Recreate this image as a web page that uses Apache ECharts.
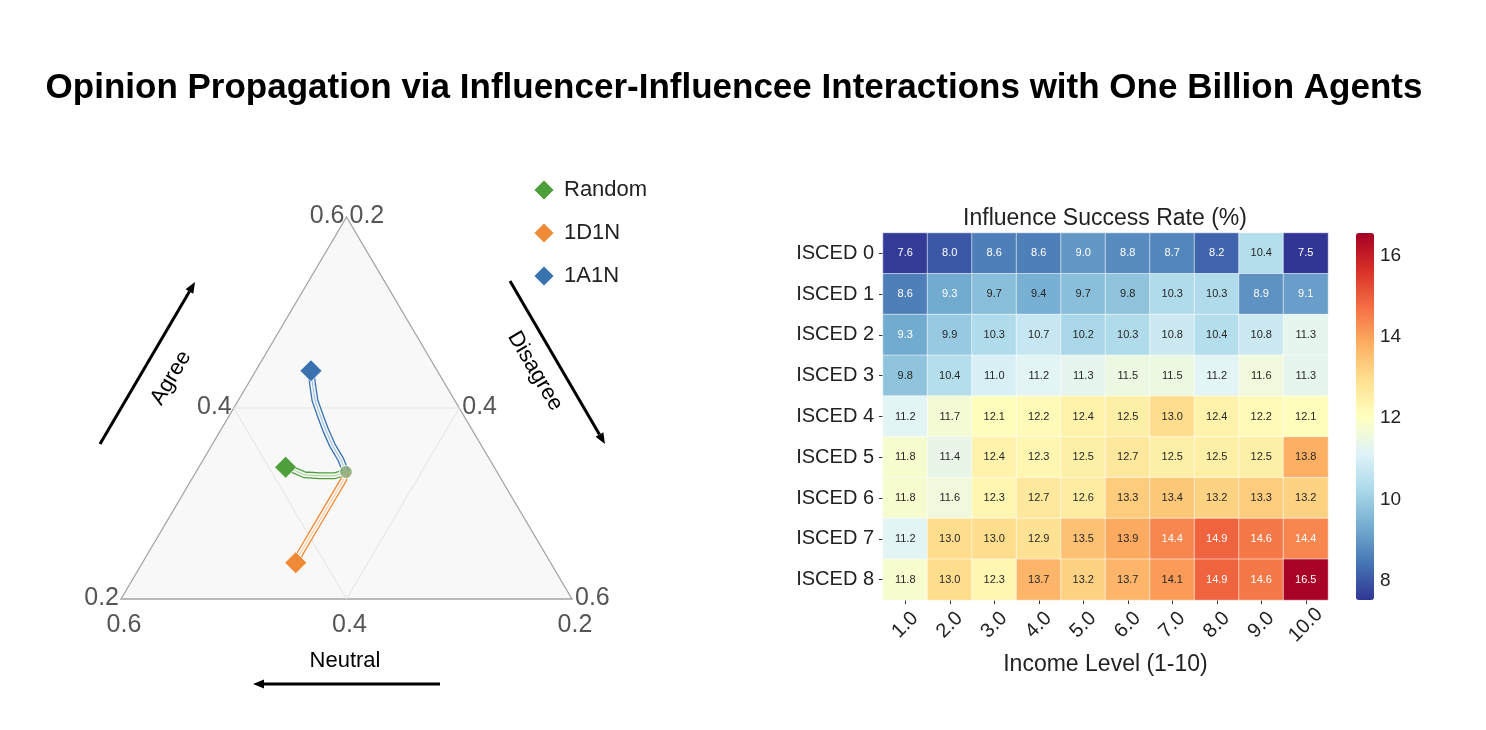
<!DOCTYPE html>
<html>
<head>
<meta charset="utf-8">
<title>Opinion Propagation</title>
<script src="https://cdn.jsdelivr.net/npm/echarts@6/dist/echarts.min.js"></script>
<style>
  html, body { margin: 0; padding: 0; background: #fff; }
  #chart { width: 1486px; height: 730px; }
</style>
</head>
<body>
<div id="chart"></div>
<script>
// ---- ternary panel: points are [agree, disagree, neutral] ----
const TERN_MIN = 0.2;
const agreeTicks = [0.2, 0.4, 0.6];
const disagreeTicks = [0.2, 0.4, 0.6];
const neutralTicks = [0.2, 0.4, 0.6];

// trajectories, from the shared start state to the final state (diamond)
const randomPath = [[0.333, 0.333, 0.334], [0.329, 0.325, 0.346], [0.329, 0.312, 0.359], [0.330, 0.298, 0.372], [0.334, 0.288, 0.378], [0.338, 0.277, 0.385]];
const d1nPath = [[0.333, 0.333, 0.334], [0.325, 0.335, 0.340], [0.302, 0.335, 0.363], [0.274, 0.335, 0.391], [0.248, 0.335, 0.417], [0.238, 0.336, 0.426]];
const a1nPath = [[0.333, 0.333, 0.334], [0.346, 0.322, 0.332], [0.361, 0.307, 0.332], [0.377, 0.293, 0.330], [0.393, 0.280, 0.327], [0.408, 0.268, 0.324], [0.424, 0.258, 0.318], [0.439, 0.249, 0.312]];

// ---- heatmap panel ----
const incomeLevels = ['1.0', '2.0', '3.0', '4.0', '5.0', '6.0', '7.0', '8.0', '9.0', '10.0'];
const iscedLevels = ['ISCED 0', 'ISCED 1', 'ISCED 2', 'ISCED 3', 'ISCED 4', 'ISCED 5', 'ISCED 6', 'ISCED 7', 'ISCED 8'];
const successRate = [
  [7.6, 8.0, 8.6, 8.6, 9.0, 8.8, 8.7, 8.2, 10.4, 7.5],
  [8.6, 9.3, 9.7, 9.4, 9.7, 9.8, 10.3, 10.3, 8.9, 9.1],
  [9.3, 9.9, 10.3, 10.7, 10.2, 10.3, 10.8, 10.4, 10.8, 11.3],
  [9.8, 10.4, 11.0, 11.2, 11.3, 11.5, 11.5, 11.2, 11.6, 11.3],
  [11.2, 11.7, 12.1, 12.2, 12.4, 12.5, 13.0, 12.4, 12.2, 12.1],
  [11.8, 11.4, 12.4, 12.3, 12.5, 12.7, 12.5, 12.5, 12.5, 13.8],
  [11.8, 11.6, 12.3, 12.7, 12.6, 13.3, 13.4, 13.2, 13.3, 13.2],
  [11.2, 13.0, 13.0, 12.9, 13.5, 13.9, 14.4, 14.9, 14.6, 14.4],
  [11.8, 13.0, 12.3, 13.7, 13.2, 13.7, 14.1, 14.9, 14.6, 16.5]
];
const colorbarTicks = [8, 10, 12, 14, 16];

const FONT = "'Liberation Sans', Arial, Helvetica, sans-serif";
const RDYLBU_R = ['#313695', '#4575b4', '#74add1', '#abd9e9', '#e0f3f8', '#ffffbf',
  '#fee090', '#fdae61', '#f46d43', '#d73027', '#a50026'];
const COLORS = { random: '#4f9e3c', d1n: '#f08a36', a1n: '#3a72b0' };

// ternary -> plane: x = disagree - neutral, y = agree
const toXY = p => [p[1] - p[2], p[0]];
const other = t => 1 - t - TERN_MIN;

const triangle = [[0.6, 0.2, 0.2], [0.2, 0.2, 0.6], [0.2, 0.6, 0.2]];
const gridSegs = [];
agreeTicks.slice(1, -1).forEach(t => gridSegs.push([[t, TERN_MIN, other(t)], [t, other(t), TERN_MIN]]));
disagreeTicks.slice(1, -1).forEach(t => gridSegs.push([[other(t), t, TERN_MIN], [TERN_MIN, t, other(t)]]));
neutralTicks.slice(1, -1).forEach(t => gridSegs.push([[other(t), TERN_MIN, t], [TERN_MIN, other(t), t]]));

function tickSeries(points, ticks, position, distance, offset) {
  return {
    type: 'scatter', xAxisIndex: 0, yAxisIndex: 0, silent: true,
    symbolSize: 0,
    data: points.map(toXY),
    label: {
      show: true, position, distance, offset,
      formatter: p => ticks[p.dataIndex].toFixed(1),
      fontSize: 25, color: '#2b2b2b', fontFamily: FONT
    }
  };
}

function pathSeries(path, color) {
  const xy = path.map(toXY);
  const base = { type: 'line', xAxisIndex: 0, yAxisIndex: 0, data: xy, showSymbol: false, smooth: false, silent: true };
  return [
    Object.assign({}, base, { lineStyle: { color, width: 7, join: 'round' }, z: 3 }),
    Object.assign({}, base, { lineStyle: { color: '#ffffff', width: 4.4, opacity: 0.92, join: 'round' }, z: 4 }),
    Object.assign({}, base, { lineStyle: { color, width: 0.8, opacity: 0.55 }, z: 5 })
  ];
}

function endSeries(name, path, color) {
  return {
    name, type: 'scatter', xAxisIndex: 0, yAxisIndex: 0,
    data: [toXY(path[path.length - 1])],
    symbol: 'diamond', symbolSize: 22, z: 7,
    itemStyle: { color, borderColor: '#fff', borderWidth: 0.8, opacity: 1 }
  };
}

function arrow(x1, y1, x2, y2) {
  const a = Math.atan2(y2 - y1, x2 - x1);
  const head = 11, half = 4.5;
  const bx = x2 - head * Math.cos(a), by = y2 - head * Math.sin(a);
  const px = -Math.sin(a) * half, py = Math.cos(a) * half;
  return [
    { type: 'line', shape: { x1, y1, x2: bx, y2: by }, style: { stroke: '#000', lineWidth: 3 } },
    { type: 'polygon', shape: { points: [[x2, y2], [bx + px, by + py], [bx - px, by - py]] }, style: { fill: '#000' } }
  ];
}

const heatData = [];
successRate.forEach((row, r) => row.forEach((v, c) => {
  heatData.push({ value: [c, r, v], label: { color: (v <= 9.3 || v >= 14.3) ? '#ffffff' : '#262626' } });
}));

const series = [
  {
    type: 'custom', xAxisIndex: 0, yAxisIndex: 0, silent: true, z: 1,
    data: [0],
    renderItem: (params, api) => ({
      type: 'polygon',
      shape: { points: triangle.map(p => api.coord(toXY(p))) },
      style: { fill: '#f8f8f8', stroke: '#a3a3a3', lineWidth: 1.3 }
    })
  },
  {
    type: 'custom', xAxisIndex: 0, yAxisIndex: 0, silent: true, z: 2,
    data: gridSegs.map(s => toXY(s[0]).concat(toXY(s[1]))),
    renderItem: (params, api) => {
      const a = api.coord([api.value(0), api.value(1)]);
      const b = api.coord([api.value(2), api.value(3)]);
      return { type: 'line', shape: { x1: a[0], y1: a[1], x2: b[0], y2: b[1] }, style: { stroke: '#e4e4e4', lineWidth: 1 } };
    }
  },
  tickSeries(agreeTicks.map(t => [t, TERN_MIN, other(t)]), agreeTicks, 'left', 2, [0, -1]),
  tickSeries(disagreeTicks.map(t => [other(t), t, TERN_MIN]), disagreeTicks, 'right', 3, [0, -1]),
  tickSeries(neutralTicks.map(t => [TERN_MIN, other(t), t]), neutralTicks, 'bottom', 14, [3, 0]),
  ...pathSeries(randomPath, COLORS.random),
  ...pathSeries(d1nPath, COLORS.d1n),
  ...pathSeries(a1nPath, COLORS.a1n),
  {
    type: 'scatter', xAxisIndex: 0, yAxisIndex: 0, silent: true, z: 6,
    data: [toXY(randomPath[0])], symbol: 'circle', symbolSize: 13,
    itemStyle: { color: '#86a672', borderColor: '#fff', borderWidth: 1.2 }
  },
  endSeries('Random', randomPath, COLORS.random),
  endSeries('1D1N', d1nPath, COLORS.d1n),
  endSeries('1A1N', a1nPath, COLORS.a1n)
];
const heatIndex = series.length;
series.push({
  type: 'heatmap', xAxisIndex: 1, yAxisIndex: 1,
  data: heatData,
  itemStyle: { borderColor: 'rgba(255,255,255,0.55)', borderWidth: 1 },
  label: { show: true, fontSize: 11, fontFamily: FONT, formatter: p => p.value[2].toFixed(1) },
  emphasis: { disabled: true }
});

const option = {
  animation: false,
  backgroundColor: '#ffffff',
  textStyle: { fontFamily: FONT },
  grid: [
    { left: 121, top: 217, width: 451, height: 382 },
    { left: 883, top: 233, width: 445, height: 367 },
    { left: 1356, top: 233, width: 18, height: 367 }
  ],
  xAxis: [
    { gridIndex: 0, type: 'value', min: -0.4, max: 0.4, show: false },
    {
      gridIndex: 1, type: 'category', data: incomeLevels,
      axisLine: { show: false },
      axisTick: { show: true, alignWithLabel: true, length: 4, lineStyle: { color: '#333' } },
      axisLabel: { rotate: 45, fontSize: 20, color: '#222', margin: 25, align: 'center', verticalAlign: 'middle' },
      name: 'Income Level (1-10)', nameLocation: 'middle', nameGap: 53,
      nameTextStyle: { fontSize: 23, color: '#222' },
      splitLine: { show: false }
    },
    { gridIndex: 2, type: 'value', show: false }
  ],
  yAxis: [
    { gridIndex: 0, type: 'value', min: 0.2, max: 0.6, show: false },
    {
      gridIndex: 1, type: 'category', data: iscedLevels, inverse: true,
      axisLine: { show: false },
      axisTick: { show: true, alignWithLabel: true, length: 4, lineStyle: { color: '#333' } },
      axisLabel: { fontSize: 20, color: '#222', margin: 9 },
      splitLine: { show: false }
    },
    {
      gridIndex: 2, type: 'value', min: 7.53, max: 16.55, position: 'right',
      axisLine: { show: false },
      axisTick: { show: true, length: 4, customValues: colorbarTicks, lineStyle: { color: '#333' } },
      axisLabel: { fontSize: 19, color: '#222', margin: 6, customValues: colorbarTicks },
      splitLine: { show: false }
    }
  ],
  visualMap: {
    type: 'continuous', seriesIndex: heatIndex,
    min: 7.53, max: 16.55, calculable: false, hoverLink: false,
    left: 1356, top: 233, itemWidth: 18, itemHeight: 367, padding: 0,
    inRange: { color: RDYLBU_R }
  },
  legend: {
    data: ['Random', '1D1N', '1A1N'],
    orient: 'vertical', left: 527, top: 173,
    icon: 'diamond', itemWidth: 22, itemHeight: 22, itemGap: 19,
    selectedMode: false,
    textStyle: { fontSize: 22, color: '#222', padding: [0, 0, 0, 4] }
  },
  graphic: [
    {
      type: 'text', x: 734, y: 88,
      style: { text: 'Opinion Propagation via Influencer-Influencee Interactions with One Billion Agents',
        align: 'center', verticalAlign: 'middle', fontSize: 35, fontWeight: 'bold', fontFamily: FONT, fill: '#000' }
    },
    {
      type: 'text', x: 1105, y: 219,
      style: { text: 'Influence Success Rate (%)', align: 'center', verticalAlign: 'middle', fontSize: 23, fontFamily: FONT, fill: '#222' }
    },
    {
      type: 'text', x: 171, y: 378, rotation: 59.5 * Math.PI / 180,
      style: { text: 'Agree', align: 'center', verticalAlign: 'middle', fontSize: 22, fontFamily: FONT, fill: '#000' }
    },
    {
      type: 'text', x: 535, y: 371, rotation: -59.5 * Math.PI / 180,
      style: { text: 'Disagree', align: 'center', verticalAlign: 'middle', fontSize: 22, fontFamily: FONT, fill: '#000' }
    },
    {
      type: 'text', x: 345, y: 661,
      style: { text: 'Neutral', align: 'center', verticalAlign: 'middle', fontSize: 22, fontFamily: FONT, fill: '#000' }
    },
    ...arrow(100, 444, 195, 282),
    ...arrow(510, 281, 605, 444),
    ...arrow(440, 684, 253, 684)
  ],
  series
};

const chart = echarts.init(document.getElementById('chart'));
chart.setOption(option);
window.addEventListener('resize', () => chart.resize());
</script>
</body>
</html>
